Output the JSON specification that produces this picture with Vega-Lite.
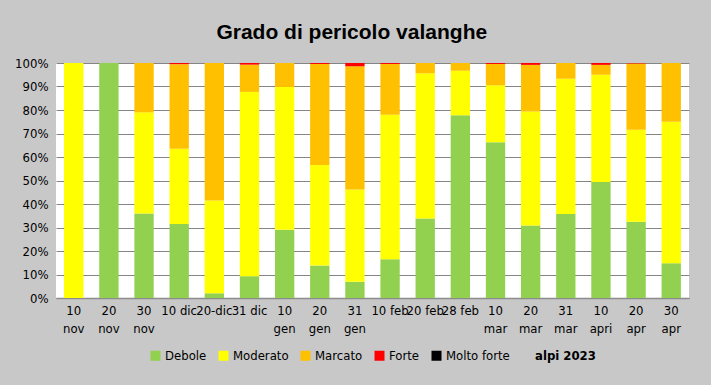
{
  "$schema": "https://vega.github.io/schema/vega-lite/v6.json",
  "width": 711,
  "height": 385,
  "autosize": {"type": "fit", "contains": "padding"},
  "padding": {"left": 14, "right": 22, "top": 22, "bottom": 22},
  "background": "#C8C8C8",
  "title": {"text": "Grado di pericolo valanghe", "fontSize": 21, "font": "Liberation Sans", "fontWeight": "bold", "color": "#000000", "offset": 14, "anchor": "middle", "frame": "bounds"},
  "data": {"values": [
    {"data": "10 nov", "grado": "Moderato", "liv": 2, "pct": 100},
    {"data": "20 nov", "grado": "Debole", "liv": 1, "pct": 100},
    {"data": "30 nov", "grado": "Debole", "liv": 1, "pct": 36},
    {"data": "30 nov", "grado": "Moderato", "liv": 2, "pct": 43},
    {"data": "30 nov", "grado": "Marcato", "liv": 3, "pct": 21},
    {"data": "10 dic", "grado": "Debole", "liv": 1, "pct": 31.5},
    {"data": "10 dic", "grado": "Moderato", "liv": 2, "pct": 32},
    {"data": "10 dic", "grado": "Marcato", "liv": 3, "pct": 36},
    {"data": "10 dic", "grado": "Forte", "liv": 4, "pct": 0.5},
    {"data": "20-dic", "grado": "Debole", "liv": 1, "pct": 2},
    {"data": "20-dic", "grado": "Moderato", "liv": 2, "pct": 39.5},
    {"data": "20-dic", "grado": "Marcato", "liv": 3, "pct": 58.5},
    {"data": "31 dic", "grado": "Debole", "liv": 1, "pct": 9.3},
    {"data": "31 dic", "grado": "Moderato", "liv": 2, "pct": 78.4},
    {"data": "31 dic", "grado": "Marcato", "liv": 3, "pct": 11.6},
    {"data": "31 dic", "grado": "Forte", "liv": 4, "pct": 0.7},
    {"data": "10 gen", "grado": "Debole", "liv": 1, "pct": 29},
    {"data": "10 gen", "grado": "Moderato", "liv": 2, "pct": 60.8},
    {"data": "10 gen", "grado": "Marcato", "liv": 3, "pct": 10.2},
    {"data": "20 gen", "grado": "Debole", "liv": 1, "pct": 13.8},
    {"data": "20 gen", "grado": "Moderato", "liv": 2, "pct": 42.8},
    {"data": "20 gen", "grado": "Marcato", "liv": 3, "pct": 43},
    {"data": "20 gen", "grado": "Forte", "liv": 4, "pct": 0.4},
    {"data": "31 gen", "grado": "Debole", "liv": 1, "pct": 6.9},
    {"data": "31 gen", "grado": "Moderato", "liv": 2, "pct": 39.3},
    {"data": "31 gen", "grado": "Marcato", "liv": 3, "pct": 52.4},
    {"data": "31 gen", "grado": "Forte", "liv": 4, "pct": 1.4},
    {"data": "10 feb", "grado": "Debole", "liv": 1, "pct": 16.5},
    {"data": "10 feb", "grado": "Moderato", "liv": 2, "pct": 61.5},
    {"data": "10 feb", "grado": "Marcato", "liv": 3, "pct": 21.6},
    {"data": "10 feb", "grado": "Forte", "liv": 4, "pct": 0.4},
    {"data": "20 feb", "grado": "Debole", "liv": 1, "pct": 33.8},
    {"data": "20 feb", "grado": "Moderato", "liv": 2, "pct": 61.8},
    {"data": "20 feb", "grado": "Marcato", "liv": 3, "pct": 4.4},
    {"data": "28 feb", "grado": "Debole", "liv": 1, "pct": 77.8},
    {"data": "28 feb", "grado": "Moderato", "liv": 2, "pct": 18.9},
    {"data": "28 feb", "grado": "Marcato", "liv": 3, "pct": 3.3},
    {"data": "10 mar", "grado": "Debole", "liv": 1, "pct": 66.3},
    {"data": "10 mar", "grado": "Moderato", "liv": 2, "pct": 24.2},
    {"data": "10 mar", "grado": "Marcato", "liv": 3, "pct": 9.1},
    {"data": "10 mar", "grado": "Forte", "liv": 4, "pct": 0.4},
    {"data": "20 mar", "grado": "Debole", "liv": 1, "pct": 30.9},
    {"data": "20 mar", "grado": "Moderato", "liv": 2, "pct": 48.5},
    {"data": "20 mar", "grado": "Marcato", "liv": 3, "pct": 19.8},
    {"data": "20 mar", "grado": "Forte", "liv": 4, "pct": 0.8},
    {"data": "31 mar", "grado": "Debole", "liv": 1, "pct": 35.7},
    {"data": "31 mar", "grado": "Moderato", "liv": 2, "pct": 57.6},
    {"data": "31 mar", "grado": "Marcato", "liv": 3, "pct": 6.7},
    {"data": "10 apri", "grado": "Debole", "liv": 1, "pct": 49.4},
    {"data": "10 apri", "grado": "Moderato", "liv": 2, "pct": 45.6},
    {"data": "10 apri", "grado": "Marcato", "liv": 3, "pct": 4.2},
    {"data": "10 apri", "grado": "Forte", "liv": 4, "pct": 0.8},
    {"data": "20 apr", "grado": "Debole", "liv": 1, "pct": 32.5},
    {"data": "20 apr", "grado": "Moderato", "liv": 2, "pct": 39.1},
    {"data": "20 apr", "grado": "Marcato", "liv": 3, "pct": 28.2},
    {"data": "20 apr", "grado": "Forte", "liv": 4, "pct": 0.2},
    {"data": "30 apr", "grado": "Debole", "liv": 1, "pct": 14.8},
    {"data": "30 apr", "grado": "Moderato", "liv": 2, "pct": 60.2},
    {"data": "30 apr", "grado": "Marcato", "liv": 3, "pct": 25}
  ]},
  "mark": {"type": "bar"},
  "encoding": {
    "x": {
      "field": "data", "type": "nominal", "sort": null,
      "scale": {"paddingInner": 0.45, "paddingOuter": 0.23},
      "axis": {
        "title": null, "labelAngle": 0, "ticks": false, "domainColor": "#8C8C8C", "domainWidth": 1.5,
        "labelExpr": "test(/dic|feb/, datum.label) ? datum.label : split(datum.label, ' ')",
        "labelFont": "DejaVu Sans Condensed, Liberation Sans, sans-serif", "labelFontSize": 13, "labelColor": "#000000",
        "labelPadding": 6, "labelLineHeight": 18, "labelBaseline": "top", "labelOverlap": false
      }
    },
    "y": {
      "field": "pct", "type": "quantitative", "stack": "normalize",
      "scale": {"domain": [0, 1]},
      "axis": {
        "title": null, "format": ".0%", "values": [0,0.1,0.2,0.3,0.4,0.5,0.6,0.7,0.8,0.9,1],
        "domain": false, "ticks": false, "gridColor": "#858585", "gridWidth": 1.2, "labelOverlap": false,
        "labelFont": "DejaVu Sans Condensed, Liberation Sans, sans-serif", "labelFontSize": 13, "labelColor": "#000000", "labelPadding": 8
      }
    },
    "color": {
      "field": "grado", "type": "nominal",
      "scale": {"domain": ["Debole", "Moderato", "Marcato", "Forte", "Molto forte"], "range": ["#92D050", "#FFFF00", "#FFC000", "#FF0000", "#000000"]},
      "legend": {
        "orient": "bottom", "direction": "horizontal", "title": "alpi 2023", "titleOrient": "right",
        "titleFontWeight": "bold", "titleFont": "DejaVu Sans Condensed, Liberation Sans, sans-serif", "titleFontSize": 13, "titleColor": "#000000",
        "titlePadding": 25, "titleBaseline": "middle",
        "symbolType": "square", "symbolSize": 100, "symbolStrokeWidth": 0,
        "labelFont": "DejaVu Sans Condensed, Liberation Sans, sans-serif", "labelFontSize": 13, "labelColor": "#000000",
        "columnPadding": 10, "offset": 14, "labelOffset": 3
      }
    },
    "order": {"field": "liv", "type": "quantitative", "sort": "ascending"}
  },
  "config": {
    "view": {"fill": "#FFFFFF", "stroke": null},
    "legend": {"layout": {"bottom": {"anchor": "middle"}}}
  }
}
